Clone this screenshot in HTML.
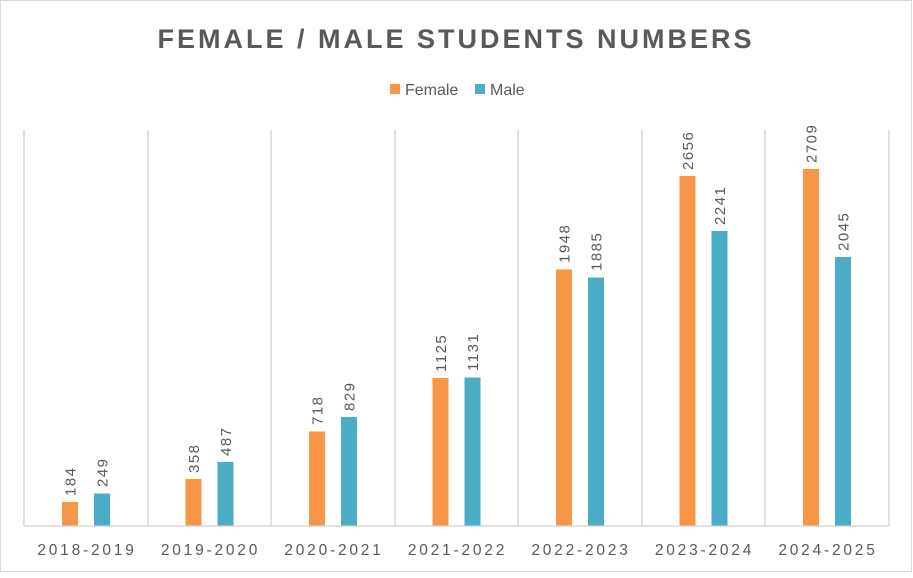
<!DOCTYPE html>
<html><head><style>
body{margin:0;background:#fff}
</style></head><body>
<svg width="913" height="573" xmlns="http://www.w3.org/2000/svg" font-family="Liberation Sans, sans-serif">
<rect x="0.5" y="0.5" width="911" height="571" fill="#fff" stroke="#d9d9d9"/>
<text x="456" y="48" text-anchor="middle" font-size="27" font-weight="bold" fill="#595959" letter-spacing="3">FEMALE / MALE STUDENTS NUMBERS</text>
<rect x="390" y="84" width="10" height="10" fill="#f79646"/>
<text x="405" y="95" font-size="16" fill="#595959">Female</text>
<rect x="475" y="84" width="10" height="10" fill="#4bacc6"/>
<text x="490" y="95" font-size="16" fill="#595959">Male</text>
<g stroke="#d9d9d9" stroke-width="1.5">
<line x1="24" y1="130" x2="24" y2="526"/><line x1="148" y1="130" x2="148" y2="526"/><line x1="271" y1="130" x2="271" y2="526"/><line x1="395" y1="130" x2="395" y2="526"/><line x1="518" y1="130" x2="518" y2="526"/><line x1="642" y1="130" x2="642" y2="526"/><line x1="765" y1="130" x2="765" y2="526"/><line x1="889" y1="130" x2="889" y2="526"/>
<line x1="24" y1="526" x2="889" y2="526"/>
</g>
<g fill="#f79646">
<rect x="62" y="502" width="16" height="23.5"/>
<rect x="185.5" y="479" width="16" height="46.5"/>
<rect x="309" y="431.5" width="16" height="94"/>
<rect x="432.5" y="378" width="16" height="147.5"/>
<rect x="556" y="269.5" width="16" height="256"/>
<rect x="679.5" y="176" width="16" height="349.5"/>
<rect x="803" y="169" width="16" height="356.5"/>
</g>
<g fill="#4bacc6">
<rect x="94" y="493.5" width="16" height="32"/>
<rect x="217.5" y="462" width="16" height="63.5"/>
<rect x="341" y="417" width="16" height="108.5"/>
<rect x="464.5" y="377.5" width="16" height="148"/>
<rect x="588" y="277.5" width="16" height="248"/>
<rect x="711.5" y="231" width="16" height="294.5"/>
<rect x="835" y="257" width="16" height="268.5"/>
</g>
<g font-size="15" fill="#595959" letter-spacing="1.5">
<text transform="translate(75.5,496) rotate(-90)">184</text>
<text transform="translate(199,473) rotate(-90)">358</text>
<text transform="translate(322.5,425) rotate(-90)">718</text>
<text transform="translate(446,372) rotate(-90)">1125</text>
<text transform="translate(569.5,263) rotate(-90)">1948</text>
<text transform="translate(693,170) rotate(-90)">2656</text>
<text transform="translate(816.5,163) rotate(-90)">2709</text>
<text transform="translate(107.5,487) rotate(-90)">249</text>
<text transform="translate(231,456) rotate(-90)">487</text>
<text transform="translate(354.5,411) rotate(-90)">829</text>
<text transform="translate(478,371) rotate(-90)">1131</text>
<text transform="translate(601.5,271) rotate(-90)">1885</text>
<text transform="translate(725,225) rotate(-90)">2241</text>
<text transform="translate(848.5,251) rotate(-90)">2045</text>
</g>
<g font-size="15.5" fill="#595959" letter-spacing="2.8" text-anchor="middle">
<text x="87" y="555">2018-2019</text>
<text x="210.5" y="555">2019-2020</text>
<text x="334" y="555">2020-2021</text>
<text x="457.5" y="555">2021-2022</text>
<text x="581" y="555">2022-2023</text>
<text x="704.5" y="555">2023-2024</text>
<text x="828" y="555">2024-2025</text>
</g>
</svg>
</body></html>
